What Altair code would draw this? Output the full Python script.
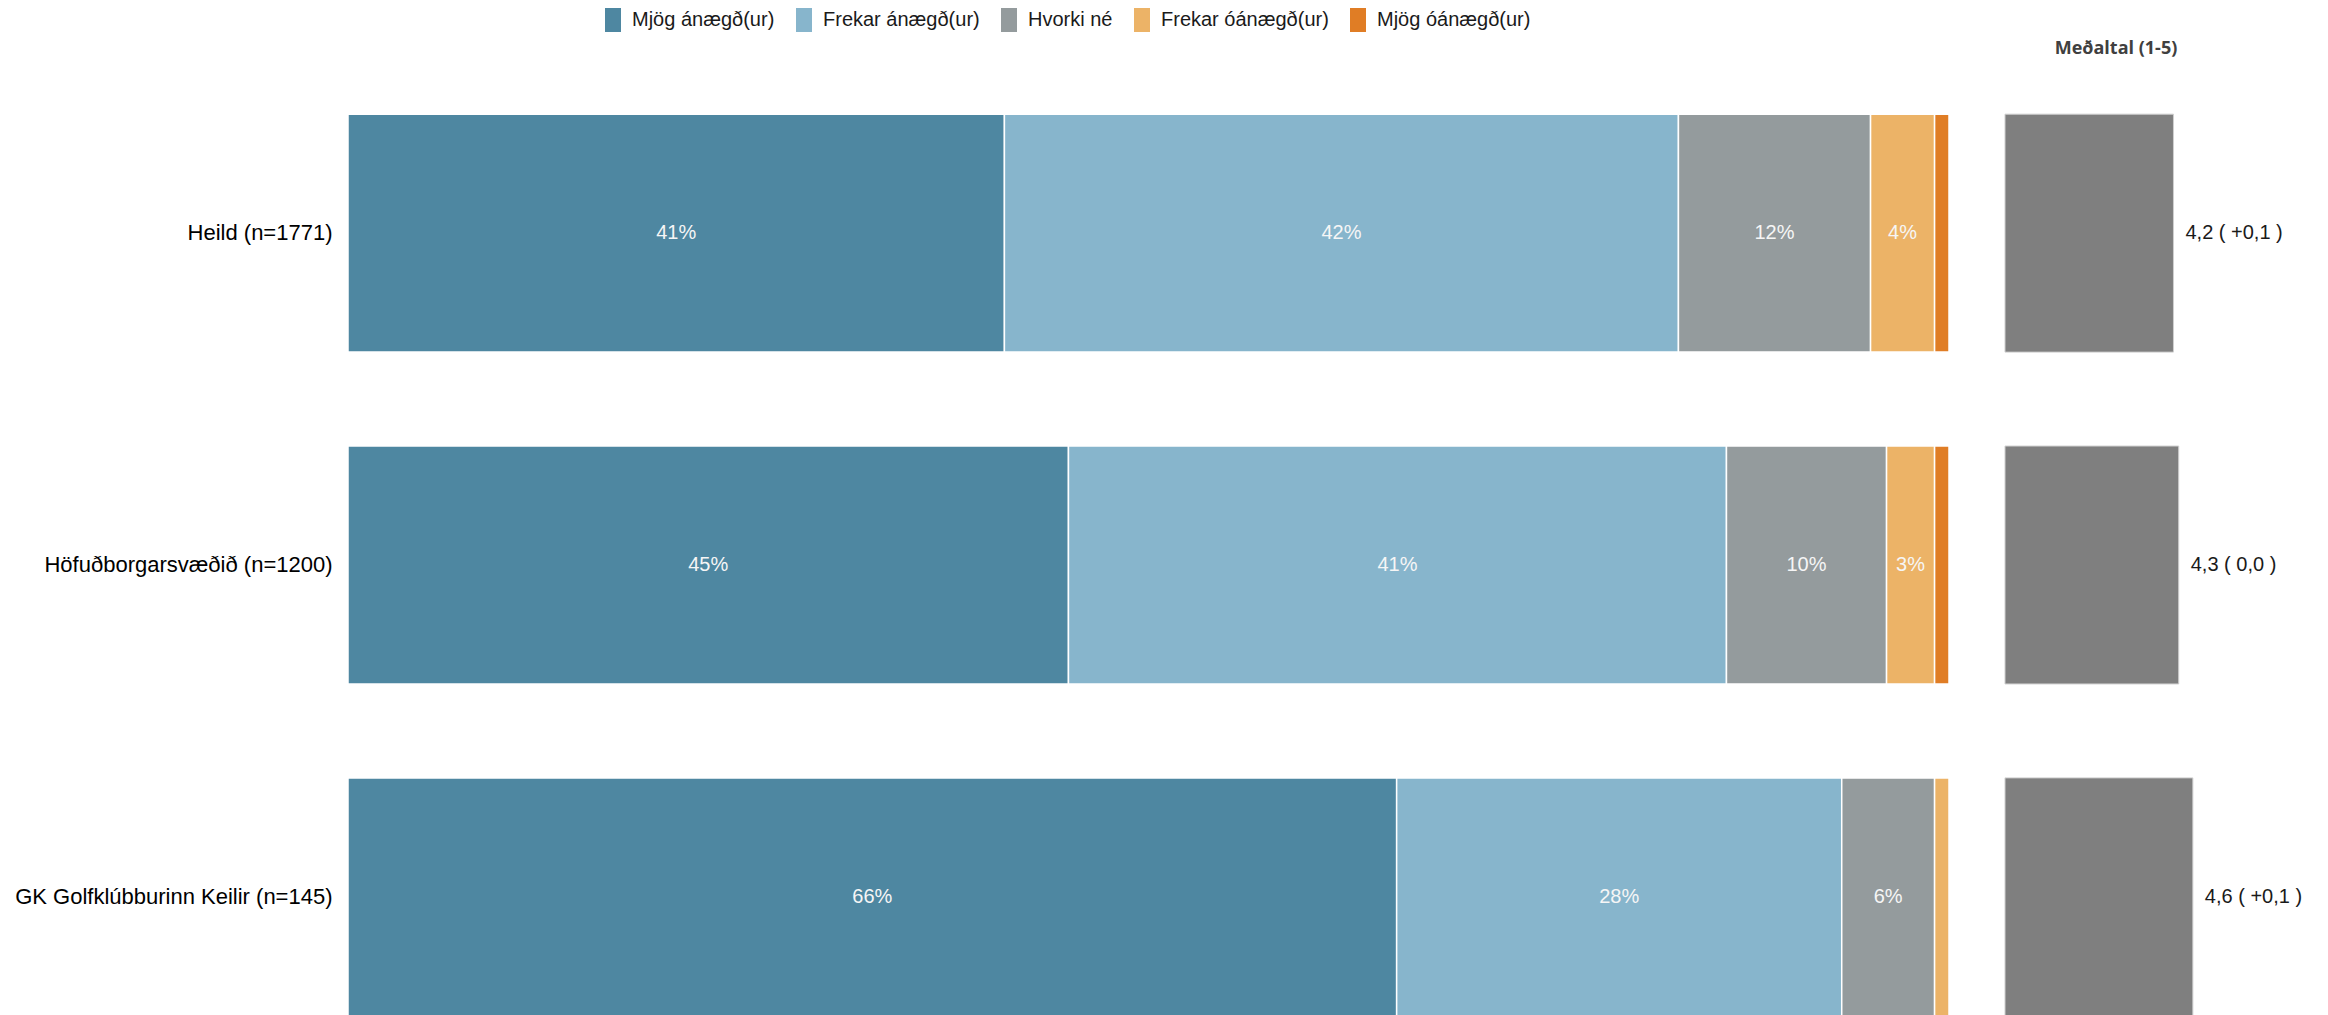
import altair as alt
import pandas as pd

groups = ["Heild (n=1771)", "Höfuðborgarsvæðið (n=1200)", "GK Golfklúbburinn Keilir (n=145)"]
categories = ["Mjög ánægð(ur)", "Frekar ánægð(ur)", "Hvorki né", "Frekar óánægð(ur)", "Mjög óánægð(ur)"]
colors = ["#4e87a1", "#87b5cc", "#949b9d", "#ecb367", "#e07d25"]
pct_heild = [41.0, 42.1, 12.0, 4.0, 0.9]
pct_hofud = [45.0, 41.1, 10.0, 3.0, 0.9]
pct_gk = [65.5, 27.8, 5.8, 0.9, 0.0]
means = [4.17, 4.30, 4.65]
mean_labels = ["4,2 ( +0,1 )", "4,3 ( 0,0 )", "4,6 ( +0,1 )"]
mean_title = "Meðaltal (1-5)"

rows = []
for g, vals in zip(groups, [pct_heild, pct_hofud, pct_gk]):
    cum = 0.0
    for i, (c, v) in enumerate(zip(categories, vals)):
        if v > 0:
            rows.append({
                "group": g, "cat": c, "ord": i, "pct": v,
                "start": cum, "end": cum + v, "mid": cum + v / 2,
                "label": f"{int(v + 0.5)}%" if v >= 2 else "",
            })
        cum += v
df = pd.DataFrame(rows)
mdf = pd.DataFrame({"group": groups, "mean": means, "mlabel": mean_labels})
tdf = pd.DataFrame({"t": [mean_title]})

FONT = "Liberation Sans"
yscale = alt.Scale(paddingInner=0.283, paddingOuter=0.1)
yaxis = alt.Axis(title=None, labelFontSize=22, labelFont=FONT, labelColor="#000000",
                 labelPadding=16, ticks=False, domain=False, grid=False, labelLimit=600)
yenc = alt.Y("group:N", sort=groups, scale=yscale, axis=yaxis)
xscale = alt.Scale(domain=[0, 100], nice=False, zero=True)
mscale = alt.Scale(domain=[0, 5], range=[1657, 1859], nice=False)

rect_path = "M-0.667,-1H0.667V1H-0.667Z"

bars = alt.Chart(df).mark_bar(stroke="#ffffff", strokeWidth=1.5).encode(
    x=alt.X("start:Q", scale=xscale, axis=None),
    x2="end:Q",
    y=yenc,
    color=alt.Color("cat:N", sort=categories,
                    scale=alt.Scale(domain=categories, range=colors),
                    legend=alt.Legend(title=None, orient="none", legendX=253, legendY=-73,
                                      direction="horizontal", symbolType=rect_path, symbolSize=576,
                                      symbolStrokeWidth=0, symbolOpacity=1,
                                      labelFont=FONT, labelFontSize=20, labelColor="#1a1a1a",
                                      labelLimit=400, labelOffset=7, columnPadding=17)),
)

pct_text = alt.Chart(df).mark_text(font=FONT, fontSize=20, color="#f6f6f6", baseline="middle", align="center").encode(
    x=alt.X("mid:Q", scale=xscale, axis=None),
    y=yenc,
    text="label:N",
)

mean_bar = alt.Chart(mdf).mark_bar(color="#7f7f7f", stroke="#cfcfcf", strokeWidth=1).encode(
    x=alt.X("mean:Q", scale=mscale, axis=None),
    y=yenc,
)

mean_text = alt.Chart(mdf).mark_text(font=FONT, fontSize=20, color="#1a1a1a", align="left", baseline="middle", dx=12).encode(
    x=alt.X("mean:Q", scale=mscale, axis=None),
    y=yenc,
    text="mlabel:N",
)

title_text = alt.Chart(tdf).mark_text(font="Open Sans", fontSize=18, fontWeight="bold", color="#404040",
                                      align="center", baseline="middle").encode(
    x=alt.value(1768), y=alt.value(-32), text="t:N",
)

chart = alt.layer(bars, pct_text, mean_bar, mean_text, title_text).resolve_scale(
    x="independent"
).properties(
    width=1601, height=968,
    padding={"left": 6, "top": 0, "right": 0, "bottom": 0},
).configure_view(strokeWidth=0)

chart.save("out.html", embed_options={"renderer": "svg", "actions": False})
